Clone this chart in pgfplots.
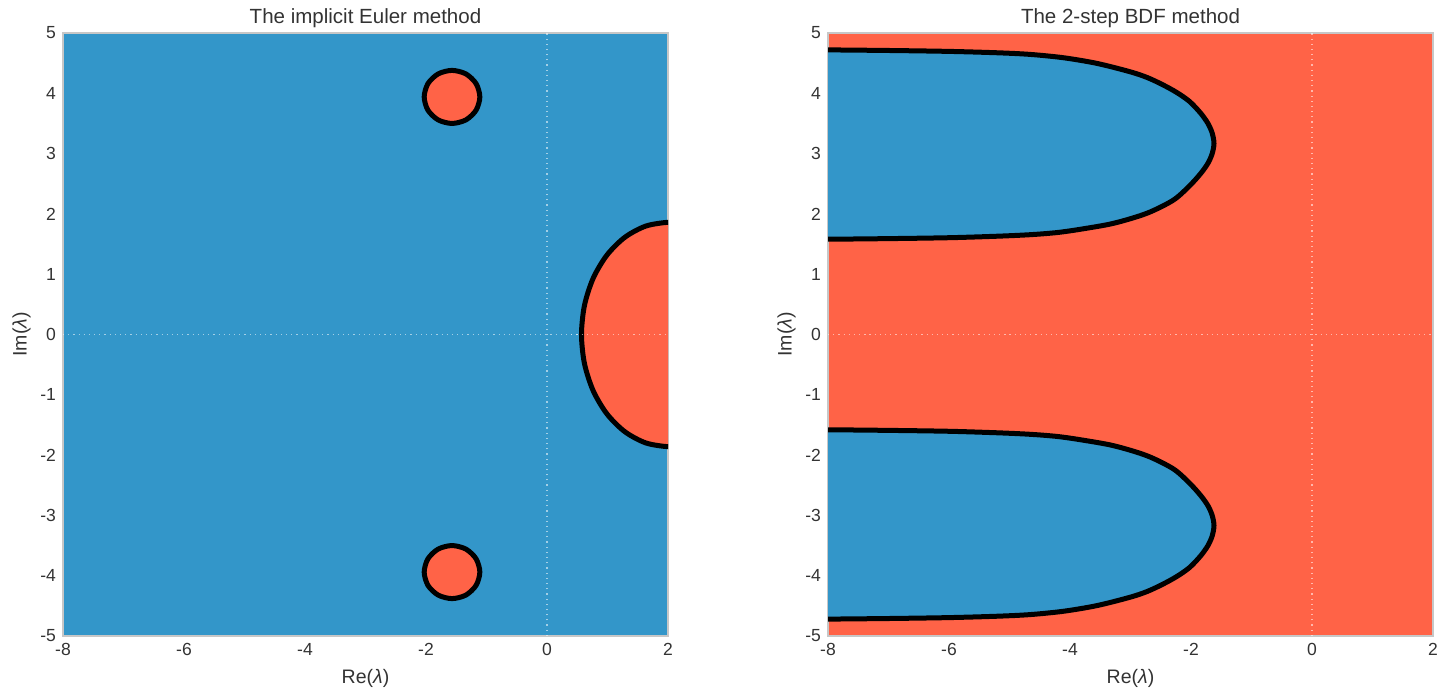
\documentclass[border=0pt]{standalone}
\usepackage{pgfplots}
\pgfplotsset{compat=1.18}
\usepackage{fontspec}
\setmainfont{Liberation Sans}
\definecolor{bl}{HTML}{3396C9}
\definecolor{rd}{HTML}{FF6347}
\definecolor{txt}{HTML}{333333}
\begin{document}
\begin{tikzpicture}
\useasboundingbox (0bp,0bp) rectangle (727.5bp,346.5bp);
\pgfplotsset{
 every axis title/.style={at={(0.5,1)}, anchor=base, yshift=4.5bp,
   font=\fontsize{10.3}{12}\selectfont, text=txt},
 every axis/.append style={
  scale only axis, width=302.5bp, height=301.5bp,
  xmin=-8,xmax=2,ymin=-5,ymax=5,
  xtick={-8,-6,-4,-2,0,2}, ytick={-5,-4,-3,-2,-1,0,1,2,3,4,5},
  major tick length=0pt,
  axis line style={black!22, line width=0.6bp},
  tick label style={font=\fontsize{8.8}{10}\selectfont, text=txt},
  /pgf/number format/assume math mode=true,
  label style={font=\fontsize{9.8}{11}\selectfont, text=txt},
  xlabel={Re(\textit{λ})}, ylabel={Im(\textit{λ})},
  ylabel style={yshift=-2bp},
  clip=true,
 },
 bnd/.style={draw=black, line width=2.5bp, smooth},
 zl/.style={white, opacity=0.55, dotted, line width=0.6bp},
}
% ---------------- left panel ----------------
\begin{axis}[at={(31.5bp,28.5bp)}, anchor=south west, title={The implicit Euler method},
  axis background/.style={fill=bl}]
\addplot[zl] coordinates {(0,-5) (0,5)};
\addplot[zl] coordinates {(-8,0) (2,0)};
\addplot[bnd, fill=rd] coordinates {
 (2.5,1.78) (2.248,1.832) (2,1.86) (1.630,1.797) (1.285,1.611) (0.989,1.315)
 (0.762,0.93) (0.619,0.481) (0.57,0) (0.619,-0.481) (0.762,-0.93)
 (0.989,-1.315) (1.285,-1.611) (1.630,-1.797) (2,-1.86) (2.248,-1.832) (2.5,-1.78)};
\addplot[zl] coordinates {(0.4,0) (2,0)};
\addplot[draw=black, line width=2.5bp, smooth cycle, fill=rd] coordinates {
 (-1.11,3.94) (-1.172,4.16) (-1.34,4.321) (-1.57,4.38) (-1.80,4.321) (-1.968,4.16)
 (-2.03,3.94) (-1.968,3.72) (-1.80,3.559) (-1.57,3.50) (-1.34,3.559) (-1.172,3.72)};
\addplot[draw=black, line width=2.5bp, smooth cycle, fill=rd] coordinates {
 (-1.11,-3.94) (-1.172,-3.72) (-1.34,-3.559) (-1.57,-3.50) (-1.80,-3.559) (-1.968,-3.72)
 (-2.03,-3.94) (-1.968,-4.16) (-1.80,-4.321) (-1.57,-4.38) (-1.34,-4.321) (-1.172,-4.16)};
\end{axis}
% ---------------- right panel ----------------
\begin{axis}[at={(414bp,28.5bp)}, anchor=south west, title={The 2-step BDF method},
  axis background/.style={fill=rd}]
\addplot[zl] coordinates {(0,-5) (0,5)};
\addplot[zl] coordinates {(-8,0) (2,0)};
\addplot[bnd, fill=bl] coordinates {
 (-8.6,4.725) (-8,4.72) (-7,4.71) (-6,4.695) (-5.2,4.672) (-4.66,4.645) (-4.11,4.59)
 (-3.56,4.497) (-3.01,4.358) (-2.72,4.26) (-2.46,4.138) (-2.23,4.01) (-2.02,3.861) (-1.84,3.67) (-1.72,3.50)
 (-1.65,3.34) (-1.62,3.17) (-1.65,3.00) (-1.72,2.84) (-1.84,2.67) (-2.02,2.47)
 (-2.29,2.23) (-2.73,2.01) (-3.28,1.844)
 (-3.83,1.745) (-4.22,1.69) (-4.66,1.655) (-5.2,1.63) (-6,1.605) (-7,1.59) (-8,1.58) (-8.6,1.578)};
\addplot[bnd, fill=bl] coordinates {
 (-8.6,-4.725) (-8,-4.72) (-7,-4.71) (-6,-4.695) (-5.2,-4.672) (-4.66,-4.645) (-4.11,-4.59)
 (-3.56,-4.497) (-3.01,-4.358) (-2.72,-4.26) (-2.46,-4.138) (-2.23,-4.01) (-2.02,-3.861) (-1.84,-3.67) (-1.72,-3.50)
 (-1.65,-3.34) (-1.62,-3.17) (-1.65,-3.00) (-1.72,-2.84) (-1.84,-2.67) (-2.02,-2.47)
 (-2.29,-2.23) (-2.73,-2.01) (-3.28,-1.844)
 (-3.83,-1.745) (-4.22,-1.69) (-4.66,-1.655) (-5.2,-1.63) (-6,-1.605) (-7,-1.59) (-8,-1.58) (-8.6,-1.578)};
\end{axis}
\end{tikzpicture}
\end{document}
